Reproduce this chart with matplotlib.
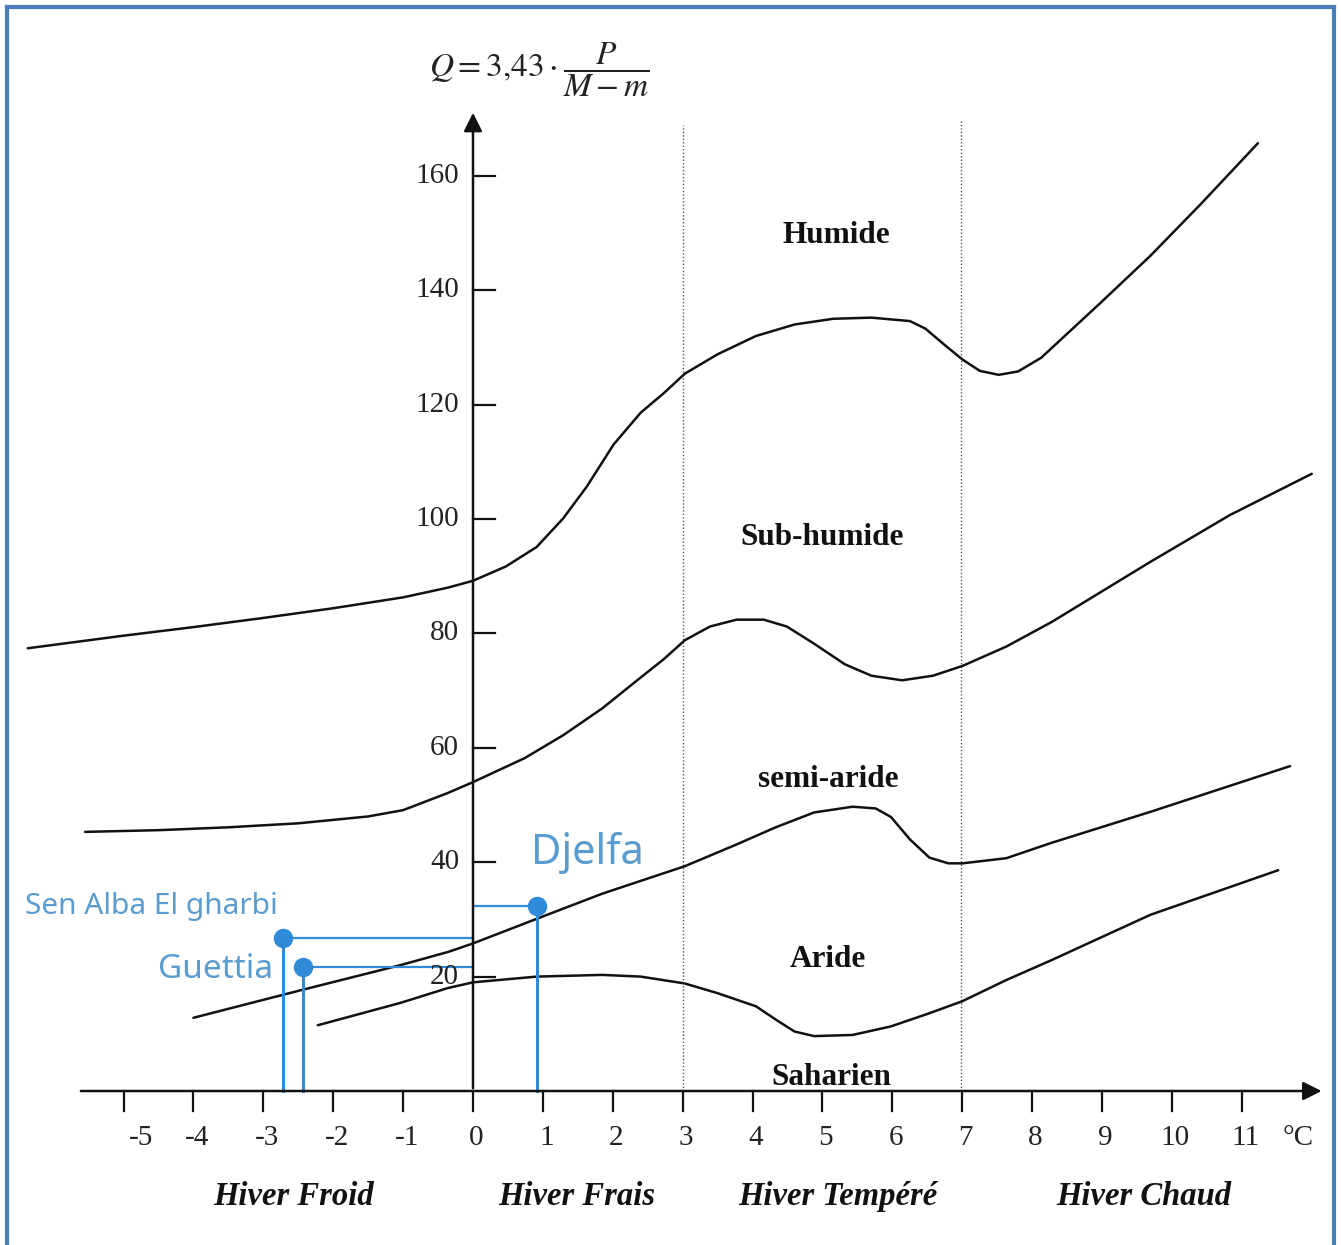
import matplotlib
matplotlib.use('Agg')
import matplotlib.pyplot as plt
from matplotlib.lines import Line2D

plt.rcParams['mathtext.fontset'] = 'stix'

# limit curves of the Emberger climagram (m in degC, Q2)
humide_m = [-6.37, -5.0, -4.0, -3.0, -2.0, -1.0, -0.36, 0, 0.47, 0.91, 1.29, 1.63, 2.01, 2.40, 2.73,
            3.03, 3.50, 4.05, 4.60, 5.15, 5.70, 6.25, 6.47, 6.75, 7.0, 7.25, 7.52, 7.80, 8.13,
            8.97, 9.69, 10.4, 11.23]
humide_q = [77.4, 79.6, 81.1, 82.7, 84.4, 86.3, 88.0, 89.2, 91.7, 95.1, 100.1, 105.7, 113.0, 118.6, 122.0,
            125.4, 128.8, 132.0, 134.0, 135.0, 135.2, 134.6, 133.3, 130.4, 127.9, 125.9, 125.2, 125.8, 128.2,
            137.7, 146.0, 154.9, 165.7]

subhum_m = [-5.55, -4.5, -3.5, -2.5, -1.5, -1.0, -0.36, 0, 0.74, 1.29, 1.85, 2.40, 2.73, 3.03, 3.39,
            3.77, 4.16, 4.49, 4.88, 5.32, 5.70, 6.14, 6.58, 7.0, 7.63, 8.28, 9.69, 10.83, 12.0]
subhum_q = [45.3, 45.6, 46.1, 46.8, 48.0, 49.1, 52.1, 54.0, 58.2, 62.2, 66.9, 72.3, 75.5, 78.8, 81.2,
            82.4, 82.4, 81.2, 78.2, 74.6, 72.6, 71.8, 72.6, 74.3, 77.7, 82.0, 92.5, 100.7, 107.9]

semiar_m = [-4.0, -2.47, -1.04, -0.36, 0, 0.91, 1.85, 3.03, 3.77, 4.33, 4.88, 5.43, 5.76, 5.98, 6.25,
            6.53, 6.80, 7.0, 7.63, 8.28, 9.69, 11.69]
semiar_q = [12.8, 17.6, 22.0, 24.3, 25.8, 30.1, 34.5, 39.3, 43.1, 46.1, 48.7, 49.7, 49.4, 47.9, 44.0,
            40.8, 39.8, 39.8, 40.7, 43.4, 48.8, 56.8]

aride_m = [-2.22, -1.04, -0.36, 0, 0.91, 1.85, 2.40, 3.03, 3.50, 4.05, 4.33, 4.60, 4.88, 5.43, 5.98,
           6.53, 7.0, 7.63, 8.28, 9.69, 11.52]
aride_q = [11.5, 15.4, 18.0, 19.0, 20.0, 20.3, 20.0, 18.8, 17.1, 14.8, 12.5, 10.4, 9.6, 9.8, 11.3,
           13.6, 15.7, 19.4, 22.9, 30.8, 38.6]

# stations
stations = ['Sen Alba El gharbi', 'Guettia', 'Djelfa']
st_m = [-2.72, -2.43, 0.92]
st_q = [26.7, 21.7, 32.3]

x_ticks = list(range(-5, 12))
y_ticks = [20, 40, 60, 80, 100, 120, 140, 160]
zones = ['Humide', 'Sub-humide', 'semi-aride', 'Aride', 'Saharien']
zone_pos = [(5.2, 149.5), (5.0, 96.8), (5.08, 54.5), (5.08, 23.0), (5.13, 2.3)]
winters = ['Hiver Froid', 'Hiver Frais', 'Hiver Tempéré', 'Hiver Chaud']
winter_x = [-2.57, 1.49, 5.22, 9.6]

fig = plt.figure(figsize=(13.41, 12.45), dpi=100)
ax = fig.add_axes([0, 0, 1, 1])
ax.set_xlim(-6.767, 12.418)
ax.set_ylim(-26.92, 190.73)
ax.axis('off')

black = '#111111'
blue = '#2f8ad8'
blue_txt = '#5a9ccf'
serif = 'Liberation Serif'

# axes with arrows
ax.annotate('', xy=(12.18, 0), xytext=(-5.65, 0),
            arrowprops=dict(arrowstyle='-|>', color=black, lw=1.8, mutation_scale=28))
ax.annotate('', xy=(0, 171.5), xytext=(0, 0),
            arrowprops=dict(arrowstyle='-|>', color=black, lw=1.8, mutation_scale=28))

for t in x_ticks:
    ax.plot([t, t], [0, -3.5], color=black, lw=1.6)
    lab = str(t) if t >= 0 else '-' + str(abs(t))
    xl = t + 0.25 if t == -5 else t + 0.05
    ax.text(xl, -8.2, lab, ha='center', va='center', family=serif, fontsize=21, color='#222222')
ax.text(11.8, -8.2, '°C', ha='center', va='center', family=serif, fontsize=21, color='#222222')

for t in y_ticks:
    ax.plot([0, 0.32], [t, t], color=black, lw=1.6)
    ax.text(-0.2, t, str(t), ha='right', va='center', family=serif, fontsize=21, color='#222222')

# dotted limits between winter types
ax.plot([3.0, 3.0], [0, 168.9], color='#555555', lw=1.0, ls=(0, (1, 1.5)))
ax.plot([6.98, 6.98], [0, 169.8], color='#555555', lw=1.0, ls=(0, (1, 1.5)))

for xs, ys in [(humide_m, humide_q), (subhum_m, subhum_q), (semiar_m, semiar_q), (aride_m, aride_q)]:
    ax.plot(xs, ys, color=black, lw=1.8, solid_capstyle='round', solid_joinstyle='round')

for name, (zx, zy) in zip(zones, zone_pos):
    ax.text(zx, zy, name, ha='center', va='center', family=serif,
            fontweight='bold', fontsize=22.5, color=black)

for name, wx in zip(winters, winter_x):
    ax.text(wx, -18.5, name, ha='center', va='center', family=serif,
            fontweight='bold', style='italic', fontsize=23.5, color=black)

ax.text(0.95, 178.5, r'$Q=3{,}43\cdot\dfrac{P}{M-m}$', ha='center', va='center',
        fontsize=24, color='#222222')

# stations: guide lines to both axes
for m, q in zip(st_m, st_q):
    ax.plot([m, 0], [q, q], color=blue, lw=1.6)
    ax.plot([m, m], [q, 0], color=blue, lw=2.2)
    ax.plot(m, q, 'o', color=blue, ms=13)

ax.text(-6.41, 32.2, stations[0], ha='left', va='center', family='Noto Sans',
        fontsize=21.5, color=blue_txt)
ax.text(-2.86, 21.2, stations[1], ha='right', va='center', family='Noto Sans',
        fontsize=24, color=blue_txt)
ax.text(0.83, 41.6, stations[2], ha='left', va='center', family='Noto Sans',
        fontsize=30, color=blue_txt)

# blue frame around the figure
fc = '#4a7ebb'
fig.add_artist(Line2D([0.005, 0.005], [0, 0.994], transform=fig.transFigure, color=fc, lw=3))
fig.add_artist(Line2D([0.995, 0.995], [0, 0.994], transform=fig.transFigure, color=fc, lw=3))
fig.add_artist(Line2D([0.005, 0.995], [0.994, 0.994], transform=fig.transFigure, color=fc, lw=3))

fig.savefig('out.png', dpi=100, facecolor='white')
